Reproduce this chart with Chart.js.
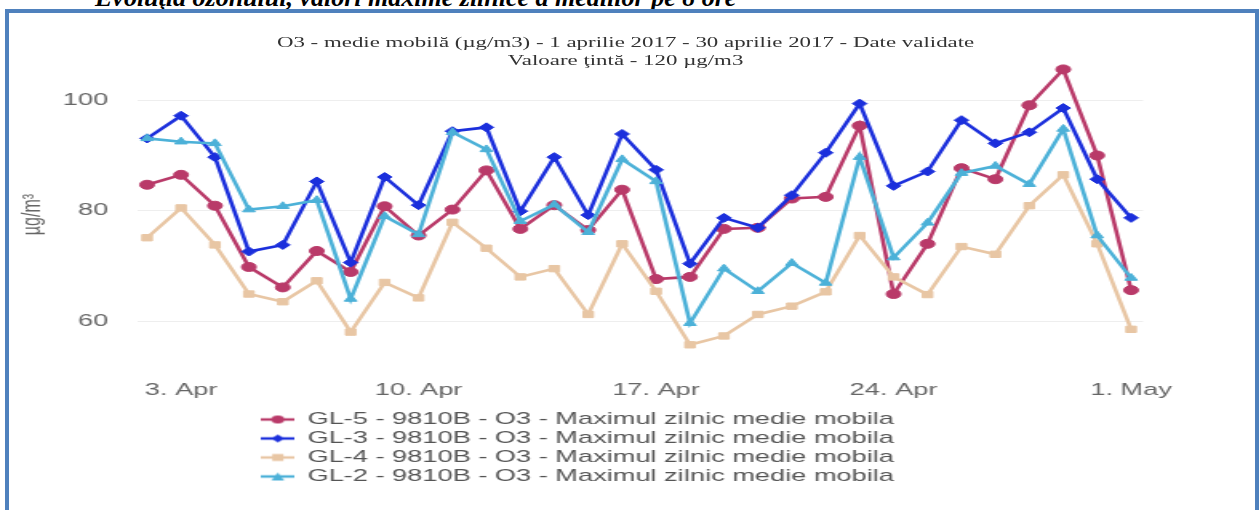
<!DOCTYPE html>
<html>
<head>
<meta charset="utf-8">
<script src="https://cdn.jsdelivr.net/npm/chart.js@4/dist/chart.umd.min.js"></script>
<style>
  body { margin: 0; background: #fff; overflow: hidden; width: 1259px; height: 510px; position: relative; }
  #heading { position: absolute; left: 95px; top: -17px; font: bold italic 26px "Liberation Serif", serif; color: #000; white-space: nowrap; }
  #frame { position: absolute; left: 5px; top: 9px; width: 1246px; height: 520px; border: 4px solid #4f81bd; }
  #wrap { position: absolute; left: 0; top: 0; width: 787px; height: 510px; transform: scaleX(1.6); transform-origin: 0 0; }
  #title { position: absolute; left: 0; top: 33px; width: 782px; text-align: center; font: 14.3px/18px "Liberation Serif", serif; color: #333; }
</style>
</head>
<body>
<div id="heading">Evoluţia ozonului, valori maxime zilnice a mediilor pe 8 ore</div>
<div id="frame"></div>
<div id="wrap">
  <canvas id="chart" width="787" height="510"></canvas>
  <div id="title">O3 - medie mobilă (µg/m3) - 1 aprilie 2017 - 30 aprilie 2017 - Date validate<br>Valoare ţintă - 120 µg/m3</div>
</div>
<script>
// zile (axa x)
const dates = ['2. Apr', '3. Apr', '4. Apr', '5. Apr', '6. Apr', '7. Apr', '8. Apr', '9. Apr', '10. Apr', '11. Apr',
    '12. Apr', '13. Apr', '14. Apr', '15. Apr', '16. Apr', '17. Apr', '18. Apr', '19. Apr', '20. Apr', '21. Apr',
    '22. Apr', '23. Apr', '24. Apr', '25. Apr', '26. Apr', '27. Apr', '28. Apr', '29. Apr', '30. Apr', '1. May'];
const tickLabels = ['3. Apr', '10. Apr', '17. Apr', '24. Apr', '1. May'];
const yTicks = [60, 80, 100];

// valori O3 (µg/m3)
const gl5 = [84.7, 86.5, 80.9, 69.8, 66.1, 72.7, 68.9, 80.8, 75.5, 80.2, 87.3, 76.7, 81.0, 76.5, 83.8,
    67.6, 68.0, 76.7, 76.9, 82.2, 82.5, 95.4, 64.9, 74.0, 87.7, 85.7, 99.1, 105.6, 90.0, 65.6];
const gl3 = [93.1, 97.2, 89.7, 72.6, 73.8, 85.3, 70.6, 86.1, 81.0, 94.4, 95.1, 79.9, 89.7, 79.2, 93.9,
    87.4, 70.4, 78.7, 76.9, 82.8, 90.5, 99.4, 84.5, 87.1, 96.4, 92.2, 94.2, 98.6, 85.7, 78.7];
const gl4 = [75.1, 80.5, 73.8, 64.9, 63.5, 67.3, 58.0, 67.0, 64.2, 77.9, 73.2, 68.0, 69.5, 61.2, 74.0,
    65.4, 55.7, 57.3, 61.2, 62.7, 65.3, 75.5, 68.0, 64.8, 73.5, 72.1, 80.9, 86.5, 74.0, 58.5];
const gl2 = [93.1, 92.5, 92.2, 80.2, 80.8, 81.9, 64.0, 79.0, 75.7, 94.2, 91.1, 78.1, 81.1, 76.1, 89.3,
    85.3, 59.6, 69.5, 65.4, 70.5, 66.9, 89.7, 71.5, 77.8, 86.8, 88.1, 84.8, 94.8, 75.5, 67.8];

const seriesNames = [
    'GL-5 - 9810B - O3 - Maximul zilnic medie mobila',
    'GL-3 - 9810B - O3 - Maximul zilnic medie mobila',
    'GL-4 - 9810B - O3 - Maximul zilnic medie mobila',
    'GL-2 - 9810B - O3 - Maximul zilnic medie mobila'
];
const colors = ['#b93a69', '#1b2fdc', '#e8c6a4', '#4cb1d8'];
const shapes = ['circle', 'rectRot', 'rect', 'triangle'];

function toPoints(values) {
    return values.map((v, i) => ({ x: i, y: v }));
}

// simbol legenda: linie + marker
function legendSymbol(color, shape) {
    const c = document.createElement('canvas');
    c.width = 21;
    c.height = 10;
    const ctx = c.getContext('2d');
    ctx.strokeStyle = color;
    ctx.lineWidth = 2.5;
    ctx.beginPath();
    ctx.moveTo(0, 5);
    ctx.lineTo(21, 5);
    ctx.stroke();
    ctx.fillStyle = color;
    ctx.beginPath();
    if (shape === 'circle') {
        ctx.arc(10.5, 5, 4, 0, Math.PI * 2);
    } else if (shape === 'rectRot') {
        ctx.moveTo(10.5, 1); ctx.lineTo(14.5, 5); ctx.lineTo(10.5, 9); ctx.lineTo(6.5, 5);
    } else if (shape === 'rect') {
        ctx.rect(7, 1.5, 7, 7);
    } else {
        ctx.moveTo(10.5, 1); ctx.lineTo(14.5, 9); ctx.lineTo(6.5, 9);
    }
    ctx.closePath();
    ctx.fill();
    return c;
}
const symbols = colors.map((c, i) => legendSymbol(c, shapes[i]));

const allSeries = [gl5, gl3, gl4, gl2];
const datasets = allSeries.map((values, i) => ({
    label: seriesNames[i],
    data: toPoints(values),
    borderColor: colors[i],
    backgroundColor: colors[i],
    borderWidth: 2.6,
    pointStyle: shapes[i],
    pointRadius: 4.5,
    pointBorderWidth: 1,
    pointBackgroundColor: colors[i],
    pointBorderColor: colors[i],
    tension: 0,
    clip: false,
    order: 4 - i
}));

const ctx = document.getElementById('chart').getContext('2d');
const chart = new Chart(ctx, {
    type: 'line',
    data: { datasets: datasets },
    options: {
        responsive: false,
        animation: false,
        layout: { padding: { top: 69.4, left: 8, right: 72.6, bottom: 15 } },
        plugins: {
            title: { display: false },
            tooltip: { enabled: false },
            legend: {
                position: 'bottom',
                labels: {
                    usePointStyle: true,
                    pointStyleWidth: 20,
                    padding: 2,
                    color: '#555',
                    font: { family: 'Liberation Sans', size: 17 },
                    sort: (a, b) => a.datasetIndex - b.datasetIndex,
                    generateLabels: function(chart) {
                        const items = Chart.defaults.plugins.legend.labels.generateLabels(chart);
                        items.forEach(item => { item.pointStyle = symbols[item.datasetIndex]; });
                        return items;
                    }
                }
            }
        },
        scales: {
            x: {
                type: 'linear',
                min: -0.3,
                max: 29.35,
                grid: { display: false },
                border: { display: false },
                afterBuildTicks: function(scale) {
                    scale.ticks = tickLabels.map(t => ({ value: dates.indexOf(t) }));
                },
                afterFit: function(scale) { scale.height = 49.3; },
                ticks: {
                    autoSkip: false,
                    maxRotation: 0,
                    padding: 12,
                    color: '#666',
                    font: { family: 'Liberation Sans', size: 17 },
                    callback: function(value) { return dates[value]; }
                }
            },
            y: {
                min: 53,
                max: 105.6,
                grid: { color: '#eeeeee', drawTicks: false },
                border: { display: false },
                afterBuildTicks: function(scale) {
                    scale.ticks = yTicks.map(v => ({ value: v }));
                },
                afterFit: function(scale) { scale.width = 77.6; },
                ticks: {
                    padding: 18,
                    color: '#666',
                    font: { family: 'Liberation Sans', size: 17 }
                },
                title: {
                    display: true,
                    text: 'µg/m³',
                    color: '#666',
                    padding: { top: 3, bottom: 0 },
                    font: { family: 'Liberation Sans', size: 16 }
                }
            }
        }
    }
});
</script>
</body>
</html>
